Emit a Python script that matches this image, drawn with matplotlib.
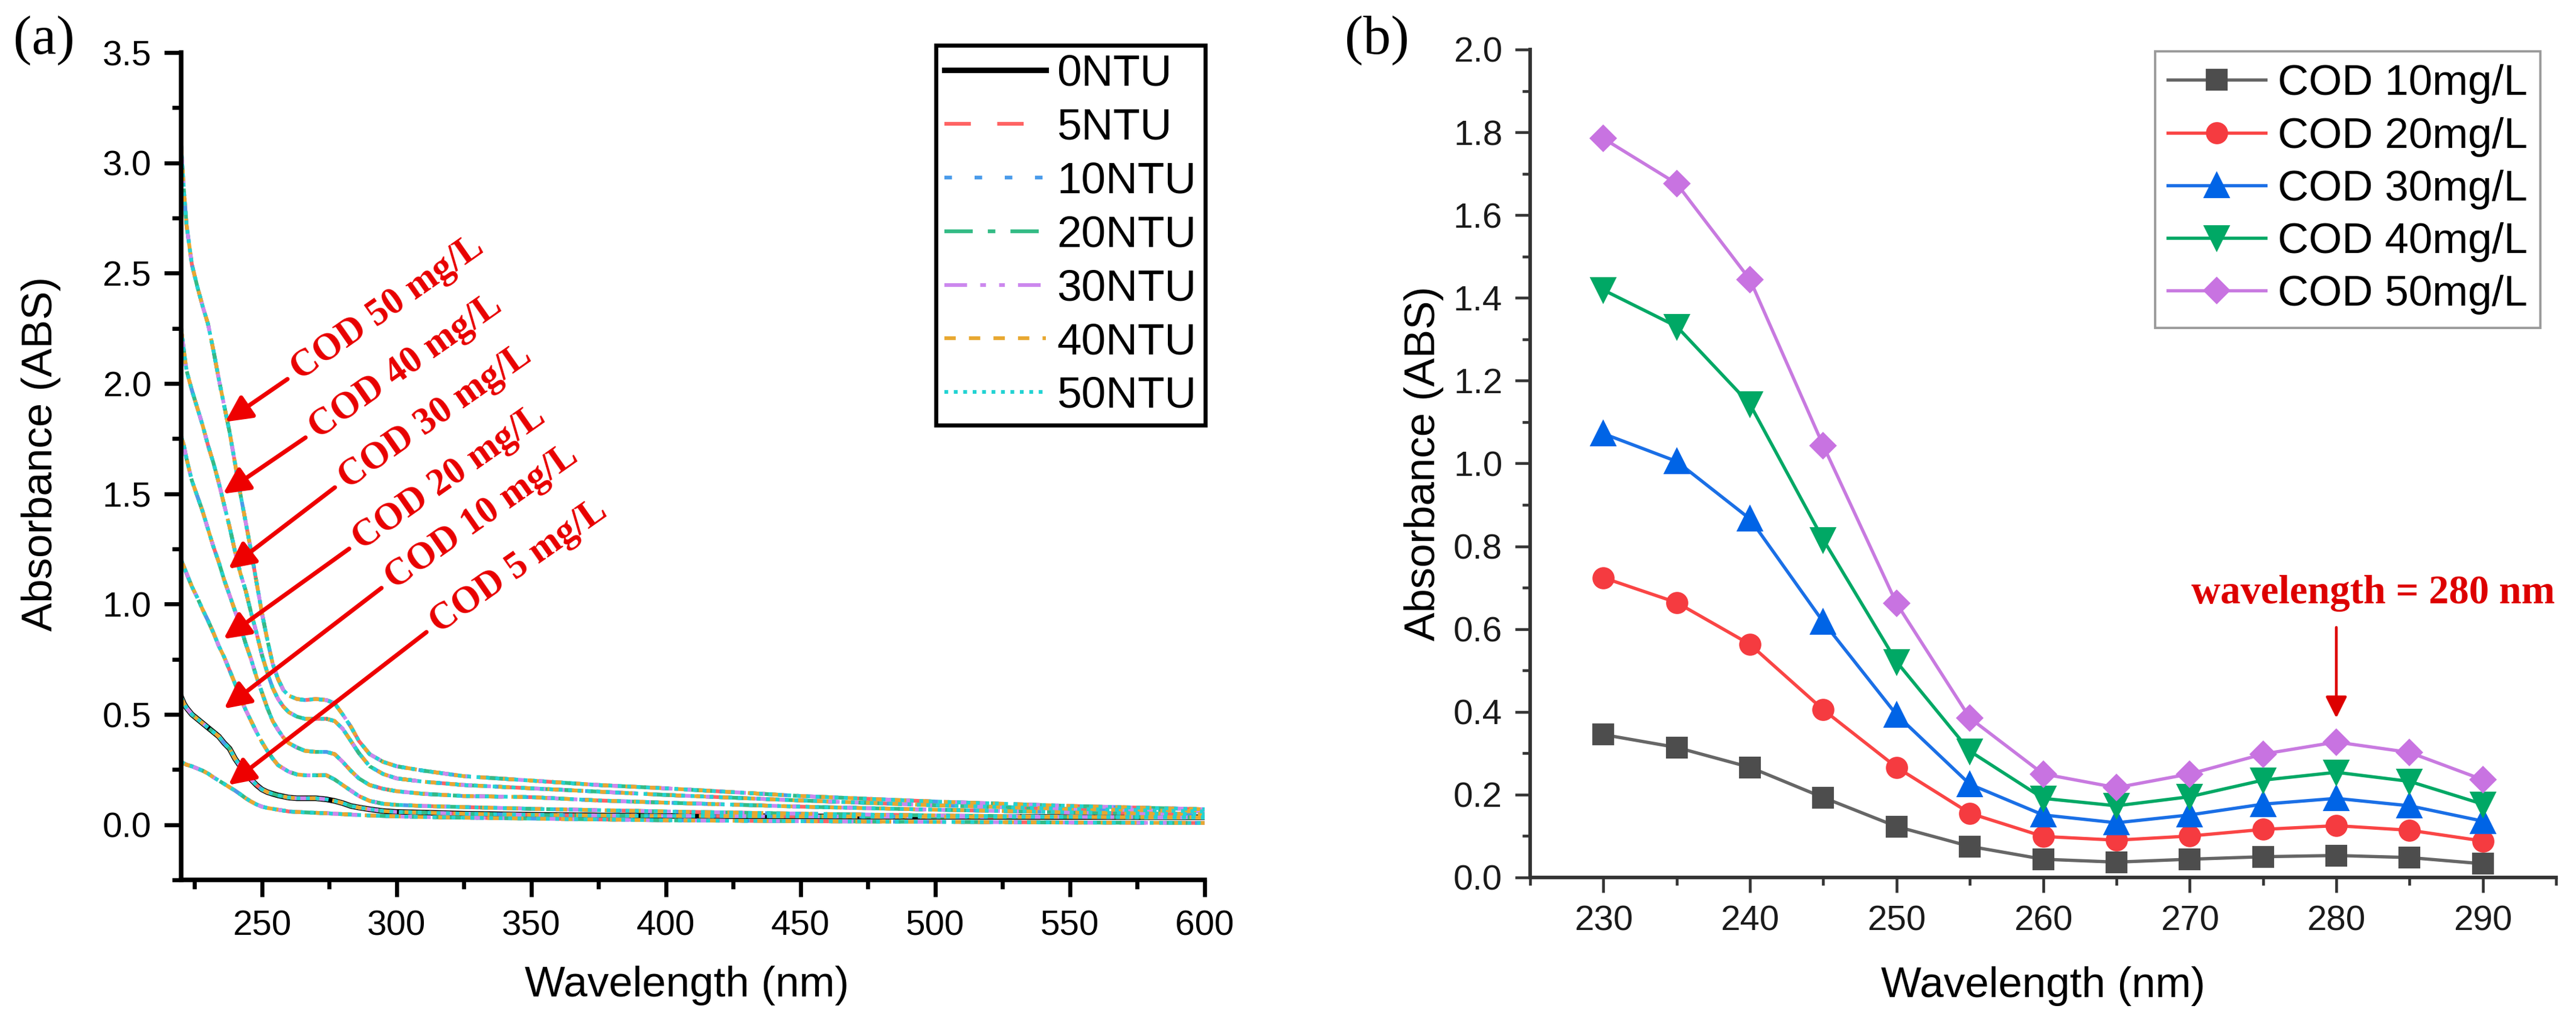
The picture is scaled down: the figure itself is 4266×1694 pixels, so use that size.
import numpy as np
import matplotlib
matplotlib.use("Agg")
import matplotlib.pyplot as plt
from matplotlib.ticker import MultipleLocator, FormatStrFormatter

plt.rcParams['font.family'] = ['Liberation Sans', 'DejaVu Sans']

# ---------------- data, panel (a): full spectra ----------------
wl_a = [220, 221, 222, 224, 226, 228, 230, 232, 234, 236, 238, 240, 242, 244,
        246, 248, 250, 252, 254, 256, 258, 260, 263, 266, 270, 274, 277, 280,
        283, 286, 290, 295, 300, 310, 325, 350, 375, 400, 450, 500, 550, 600]

cod50_a = [3.08, 2.88, 2.72, 2.54, 2.44, 2.35, 2.27, 2.15, 2.02, 1.90, 1.78, 1.64, 1.50, 1.37,
           1.24, 1.10, 0.96, 0.84, 0.73, 0.66, 0.61, 0.585, 0.57, 0.565, 0.57, 0.565, 0.55, 0.50,
           0.445, 0.38, 0.32, 0.285, 0.265, 0.245, 0.22, 0.20, 0.18, 0.165, 0.13, 0.105, 0.085, 0.07]
cod40_a = [2.25, 2.15, 2.06, 1.97, 1.89, 1.81, 1.72, 1.64, 1.55, 1.45, 1.35, 1.24, 1.14, 1.06,
           0.96, 0.87, 0.77, 0.69, 0.62, 0.57, 0.535, 0.51, 0.49, 0.48, 0.48, 0.48, 0.47, 0.435,
           0.38, 0.325, 0.265, 0.23, 0.21, 0.195, 0.18, 0.165, 0.15, 0.135, 0.11, 0.088, 0.072, 0.06]
cod30_a = [1.76, 1.72, 1.66, 1.56, 1.49, 1.42, 1.34, 1.26, 1.19, 1.11, 1.04, 0.97, 0.90, 0.82,
           0.75, 0.67, 0.60, 0.53, 0.47, 0.43, 0.395, 0.37, 0.35, 0.335, 0.33, 0.33, 0.32, 0.285,
           0.245, 0.21, 0.18, 0.163, 0.152, 0.14, 0.13, 0.125, 0.11, 0.10, 0.082, 0.068, 0.056, 0.048]
cod20_a = [1.20, 1.17, 1.14, 1.08, 1.03, 0.975, 0.925, 0.87, 0.81, 0.76, 0.70, 0.64, 0.575, 0.52,
           0.47, 0.42, 0.375, 0.335, 0.30, 0.27, 0.255, 0.24, 0.228, 0.224, 0.224, 0.224, 0.205, 0.18,
           0.155, 0.13, 0.108, 0.095, 0.09, 0.085, 0.08, 0.072, 0.066, 0.06, 0.05, 0.042, 0.036, 0.032]
cod10_a = [0.58, 0.55, 0.53, 0.50, 0.48, 0.46, 0.44, 0.42, 0.40, 0.37, 0.345, 0.30, 0.265, 0.235,
           0.205, 0.18, 0.16, 0.148, 0.14, 0.133, 0.128, 0.123, 0.12, 0.12, 0.12, 0.115, 0.108, 0.098,
           0.085, 0.078, 0.07, 0.062, 0.058, 0.055, 0.05, 0.045, 0.042, 0.04, 0.038, 0.036, 0.035, 0.034]
cod5_a = [0.285, 0.278, 0.272, 0.265, 0.255, 0.245, 0.232, 0.215, 0.20, 0.185, 0.17, 0.155, 0.138, 0.12,
          0.105, 0.092, 0.082, 0.076, 0.072, 0.068, 0.064, 0.06, 0.058, 0.056, 0.054, 0.052, 0.05, 0.048,
          0.046, 0.044, 0.042, 0.04, 0.038, 0.035, 0.032, 0.028, 0.024, 0.02, 0.016, 0.013, 0.01, 0.008]

ntu_labels = ['0NTU', '5NTU', '10NTU', '20NTU', '30NTU', '40NTU', '50NTU']
cod_labels_a = ['COD 50 mg/L', 'COD 40 mg/L', 'COD 30 mg/L',
                'COD 20 mg/L', 'COD 10 mg/L', 'COD 5 mg/L']

# ---------------- data, panel (b): 230-290 nm ----------------
wl_b = [230, 235, 240, 245, 250, 255, 260, 265, 270, 275, 280, 285, 290]
cod10_b = [0.345, 0.314, 0.266, 0.193, 0.123, 0.075, 0.044, 0.037, 0.044, 0.050, 0.053, 0.048, 0.033]
cod20_b = [0.724, 0.664, 0.563, 0.405, 0.266, 0.155, 0.099, 0.090, 0.100, 0.116, 0.125, 0.114, 0.088]
cod30_b = [1.072, 1.005, 0.866, 0.617, 0.393, 0.225, 0.151, 0.132, 0.151, 0.177, 0.191, 0.173, 0.136]
cod40_b = [1.419, 1.331, 1.143, 0.816, 0.521, 0.305, 0.191, 0.173, 0.195, 0.235, 0.254, 0.232, 0.177]
cod50_b = [1.785, 1.676, 1.444, 1.043, 0.662, 0.385, 0.250, 0.217, 0.250, 0.298, 0.327, 0.302, 0.236]
cod_labels_b = ['COD 10mg/L', 'COD 20mg/L', 'COD 30mg/L', 'COD 40mg/L', 'COD 50mg/L']

fig = plt.figure(figsize=(4266 / 300, 1694 / 300), dpi=300)

# =============== panel (a) ===============
ax1 = fig.add_axes([0.0703, 0.1399, 0.3973, 0.8087])

curves_a = [cod50_a, cod40_a, cod30_a, cod20_a, cod10_a, cod5_a]
ntu_styles = [
    ('#FF6363', (7, 7)),
    ('#4A9BEA', (2, 6)),
    ('#33BB85', (7.5, 4, 2, 4)),
    ('#CC88EE', (6, 3.5, 1.5, 3.5, 1.5, 3.5)),
    ('#E8A830', (3, 3.5)),
    ('#22D3D3', (1, 1.5)),
]

handles = []
h0, = ax1.plot(wl_a, cod10_a, color='black', lw=2.2, label=ntu_labels[0])
handles.append(h0)
for i, (col, dash) in enumerate(ntu_styles):
    for j, c in enumerate(curves_a):
        ln, = ax1.plot(wl_a, c, color=col, lw=1.5, dashes=dash)
        if j == 0:
            handles.append(ln)

ax1.set_xlim(220, 600)
ax1.set_ylim(-0.25, 3.5)
ax1.xaxis.set_major_locator(MultipleLocator(50))
ax1.xaxis.set_minor_locator(MultipleLocator(25))
ax1.yaxis.set_major_locator(MultipleLocator(0.5))
ax1.yaxis.set_minor_locator(MultipleLocator(0.25))
ax1.yaxis.set_major_formatter(FormatStrFormatter('%.1f'))
ax1.set_xticks([250, 300, 350, 400, 450, 500, 550, 600])
ax1.set_yticks([0, 0.5, 1.0, 1.5, 2.0, 2.5, 3.0, 3.5])
for s in ['top', 'right']:
    ax1.spines[s].set_visible(False)
for s in ['left', 'bottom']:
    ax1.spines[s].set_linewidth(1.8)
ax1.tick_params(which='major', direction='out', length=6.8, width=1.6, labelsize=14, pad=5)
ax1.tick_params(which='minor', direction='out', length=3.6, width=1.6)
ax1.set_xlabel('Wavelength (nm)', fontsize=17, va='center')
ax1.set_ylabel('Absorbance (ABS)', fontsize=17, va='center')
ax1.xaxis.set_label_coords(0.494, -0.128)
ax1.yaxis.set_label_coords(-0.137, 0.515)

leg1 = ax1.legend(handles, ntu_labels, loc='upper left', bbox_to_anchor=(0.3633, 0.9557),
                  bbox_transform=fig.transFigure, fontsize=17.5, handlelength=2.3,
                  handletextpad=0.25, labelspacing=0.3, borderpad=0.2, borderaxespad=0,
                  fancybox=False, edgecolor='black', framealpha=1)
leg1.get_frame().set_linewidth(1.6)

# arrows + labels for each COD curve (tip on curve, tail at label)
arrow_tips = [(236.4, 1.826), (235.6, 1.50), (237.6, 1.16), (235.8, 0.842), (236.0, 0.526), (237.6, 0.18)]
arrow_tails = [(259.5, 2.02), (266.2, 1.755), (277.1, 1.529), (282.4, 1.251), (294.4, 1.073), (311.1, 0.873)]
for lab, tip, tail in zip(cod_labels_a, arrow_tips, arrow_tails):
    ax1.annotate('', xy=tip, xytext=tail,
                 arrowprops=dict(arrowstyle='-|>', color='#EE0000', lw=1.7,
                                 mutation_scale=22, shrinkA=0, shrinkB=0))
    ax1.annotate(lab, xy=tail, xytext=(3, 2.2), textcoords='offset points',
                 rotation=35, rotation_mode='anchor', ha='left', va='center',
                 color='#E80000', fontsize=15, fontweight='bold', family='Liberation Serif')

# =============== panel (b) ===============
ax2 = fig.add_axes([0.5940, 0.1423, 0.3983, 0.8093])

series_b = [cod10_b, cod20_b, cod30_b, cod40_b, cod50_b]
line_cols = ['#666666', '#FA4545', '#1A6FE6', '#00A865', '#C87AE0']
mark_cols = ['#4D4D4D', '#F53B40', '#0064E6', '#00A865', '#C873E1']
markers = ['s', 'o', '^', 'v', 'D']
msizes = [7.5, 7.8, 9, 9, 6.8]
for y, lab, lc, mc, mk, ms in zip(series_b, cod_labels_b, line_cols, mark_cols, markers, msizes):
    ax2.plot(wl_b, y, color=lc, lw=1.3, marker=mk, ms=ms, mfc=mc, mec=mc, label=lab)

ax2.set_xlim(225, 295)
ax2.set_ylim(0, 2.0)
ax2.xaxis.set_major_locator(MultipleLocator(10))
ax2.xaxis.set_minor_locator(MultipleLocator(5))
ax2.yaxis.set_major_locator(MultipleLocator(0.2))
ax2.yaxis.set_minor_locator(MultipleLocator(0.1))
ax2.yaxis.set_major_formatter(FormatStrFormatter('%.1f'))
ax2.set_xticks([230, 240, 250, 260, 270, 280, 290])
for s in ['top', 'right']:
    ax2.spines[s].set_visible(False)
for s in ['left', 'bottom']:
    ax2.spines[s].set_linewidth(1.4)
    ax2.spines[s].set_color('#333333')
ax2.tick_params(which='major', direction='out', length=6, width=1.1, labelsize=14, pad=5,
                color='#333333', labelcolor='#1a1a1a')
ax2.tick_params(which='minor', direction='out', length=3.2, width=1.1, color='#333333')
ax2.set_xlabel('Wavelength (nm)', fontsize=17, va='center')
ax2.set_ylabel('Absorbance (ABS)', fontsize=17, va='center')
ax2.xaxis.set_label_coords(0.5, -0.131)
ax2.yaxis.set_label_coords(-0.1036, 0.5)

leg2 = ax2.legend(loc='upper left', bbox_to_anchor=(0.8366, 0.9498), bbox_transform=fig.transFigure,
                  fontsize=17, handlelength=2.29, handletextpad=0.27, labelspacing=0.3,
                  borderpad=0.3, borderaxespad=0, fancybox=False, edgecolor='#999999', framealpha=1)
leg2.get_frame().set_linewidth(0.9)

ax2.annotate('', xy=(280, 0.385), xytext=(280, 0.604),
             arrowprops=dict(arrowstyle='-|>', color='#DD0000', lw=1.1,
                             mutation_scale=18, shrinkA=0, shrinkB=0))
ax2.text(282.5, 0.686, 'wavelength = 280 nm', color='#DD0000', fontsize=16,
         fontweight='bold', family='Liberation Serif', ha='center', va='center')

# panel letters
fig.text(0.0171, 0.9604, '(a)', family='Liberation Serif', fontsize=22, ha='center', va='center')
fig.text(0.5345, 0.9604, '(b)', family='Liberation Serif', fontsize=22, ha='center', va='center')

fig.savefig('out.png', dpi=300)
